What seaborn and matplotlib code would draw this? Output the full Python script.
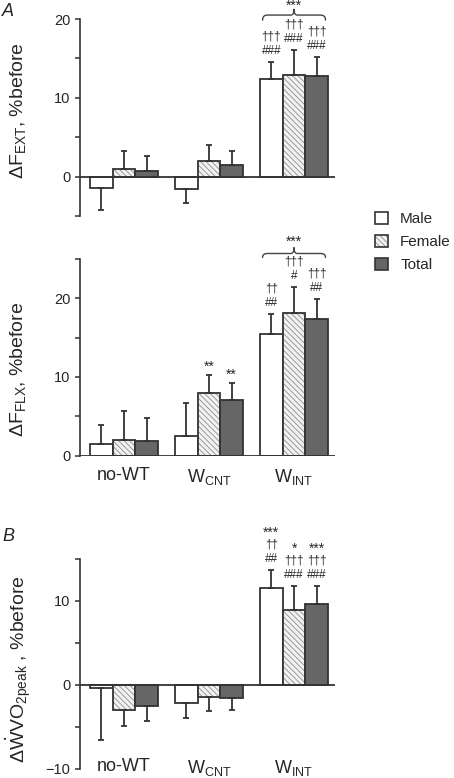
import numpy as np
import pandas as pd
import seaborn as sns
import matplotlib.pyplot as plt
from matplotlib.patches import Patch
from matplotlib.colors import to_rgba

groups = ["no-WT", "WCNT", "WINT"]
group_labels = ["no-WT", r"W$_\mathregular{CNT}$", r"W$_\mathregular{INT}$"]
sexes = ["Male", "Female", "Total"]

# panel A, extensor force change (% of before)
ext_male = [-1.5, -1.6, 12.4]
ext_female = [1.0, 2.0, 12.9]
ext_total = [0.7, 1.5, 12.8]
ext_male_err = [2.8, 1.8, 2.1]
ext_female_err = [2.3, 2.0, 3.2]
ext_total_err = [1.9, 1.7, 2.4]

# panel A, flexor force change
flx_male = [1.5, 2.5, 15.4]
flx_female = [2.0, 7.9, 18.1]
flx_total = [1.9, 7.1, 17.4]
flx_male_err = [2.4, 4.2, 2.6]
flx_female_err = [3.6, 2.4, 3.4]
flx_total_err = [2.9, 2.1, 2.5]

# panel B, peak VO2 change
vo2_male = [-0.4, -2.2, 11.6]
vo2_female = [-3.0, -1.4, 8.9]
vo2_total = [-2.45, -1.55, 9.7]
vo2_male_err = [6.2, 1.7, 2.1]
vo2_female_err = [1.9, 1.7, 2.9]
vo2_total_err = [1.85, 1.4, 2.1]

# significance marks: (group index, sex index, lines from bottom to top)
ext_notes = [(2, 0, ["###", "†††"]), (2, 1, ["###", "†††"]), (2, 2, ["###", "†††"])]
flx_notes = [(1, 1, ["**"]), (1, 2, ["**"]),
             (2, 0, ["##", "††"]), (2, 1, ["#", "†††"]), (2, 2, ["##", "†††"])]
vo2_notes = [(2, 0, ["##", "††", "***"]), (2, 1, ["###", "†††", "*"]),
             (2, 2, ["###", "†††", "***"])]

sns.set_style("ticks")
plt.rcParams["font.family"] = ["Liberation Sans", "DejaVu Sans"]
plt.rcParams["hatch.linewidth"] = 0.6

edge = "#333333"
faces = {"Male": "#ffffff", "Female": "#f2f2f2", "Total": "#666666"}
hatches = {"Male": "", "Female": "\\" * 6, "Total": ""}
hatch_col = to_rgba("#8c8c8c")


def make_df(male, female, total):
    rows = []
    for sex, vals in zip(sexes, [male, female, total]):
        for g, v in zip(groups, vals):
            rows.append({"group": g, "sex": sex, "value": v})
    return pd.DataFrame(rows)


def draw_brace(ax, x0, x1, y, drop, rise):
    t = np.linspace(0, 1, 12)[:, None]
    def bez(p0, p1, p2):
        p0, p1, p2 = map(np.array, (p0, p1, p2))
        return (1 - t) ** 2 * p0 + 2 * (1 - t) * t * p1 + t ** 2 * p2
    xm = (x0 + x1) / 2
    r, r2 = 0.06, 0.04
    left = bez((x0, y - drop), (x0, y), (x0 + r, y))
    mid_l = bez((xm - r2, y), (xm, y), (xm, y + rise))
    mid_r = bez((xm, y + rise), (xm, y), (xm + r2, y))
    right = bez((x1 - r, y), (x1, y), (x1, y - drop))
    pts = np.vstack([left, mid_l, mid_r, right])
    ax.plot(pts[:, 0], pts[:, 1], color="#444444", lw=1.0, clip_on=False)
    return xm


def draw_panel(ax, vals, errs, ylim, major, minor, notes):
    df = make_df(*vals)
    sns.barplot(data=df, x="group", y="value", hue="sex", order=groups,
                hue_order=sexes, palette=faces, errorbar=None, width=0.8,
                saturation=1, edgecolor=edge, linewidth=1.3, legend=False, ax=ax)
    for cont, sex, v, e in zip(ax.containers, sexes, vals, errs):
        for bar in cont:
            bar.set_hatch(hatches[sex])
            bar._hatch_color = hatch_col
        xs = [b.get_x() + b.get_width() / 2 for b in cont]
        lo = [ee if vv < 0 else 0 for vv, ee in zip(v, e)]
        up = [ee if vv >= 0 else 0 for vv, ee in zip(v, e)]
        ax.errorbar(xs, v, yerr=[lo, up], fmt="none", ecolor=edge,
                    elinewidth=1.3, capsize=2.3, capthick=1.3, zorder=3)
    ax.axhline(0, color=edge, lw=1.3, zorder=4)
    ax.set_xlim(-0.518, 2.482)
    ax.set_ylim(*ylim)
    ax.set_yticks(major)
    ax.set_yticks(minor, minor=True)
    ax.tick_params(axis="y", which="both", length=3.5, width=1.1, color=edge,
                   labelsize=10.5, direction="out")
    for s in ["top", "right", "bottom"]:
        ax.spines[s].set_visible(False)
    ax.spines["left"].set_linewidth(1.2)
    ax.spines["left"].set_color(edge)
    ax.set_xlabel("")
    ax.set_ylabel("")

    bars = ax.containers
    for gi, si, lines in notes:
        bar = bars[si][gi]
        x = bar.get_x() + bar.get_width() / 2
        top = vals[si][gi] + errs[si][gi]
        for k, txt in enumerate(lines):
            off = 11 + 14.5 * k
            size = 8.5
            if "*" in txt:
                off -= 3
                size = 10
            ax.annotate(txt, xy=(x, top), xytext=(0, off * 0.72),
                        textcoords="offset points", ha="center", va="center",
                        fontsize=size, annotation_clip=False)


fig = plt.figure(figsize=(4.54, 7.78), dpi=100)
W, H = 454, 778
ax1 = fig.add_axes([80 / W, 1 - 216 / H, 255 / W, 197 / H])
ax2 = fig.add_axes([80 / W, 1 - 455.5 / H, 255 / W, 196.5 / H])
ax3 = fig.add_axes([80 / W, 1 - 769 / H, 255 / W, 210 / H])

draw_panel(ax1, [ext_male, ext_female, ext_total],
           [ext_male_err, ext_female_err, ext_total_err],
           (-5, 20), [0, 10, 20], [-5, 5, 15], ext_notes)
draw_panel(ax2, [flx_male, flx_female, flx_total],
           [flx_male_err, flx_female_err, flx_total_err],
           (0, 25), [0, 10, 20], [5, 15, 25], flx_notes)
draw_panel(ax3, [vo2_male, vo2_female, vo2_total],
           [vo2_male_err, vo2_female_err, vo2_total_err],
           (-10, 15), [-10, 0, 10], [-5, 5, 15], vo2_notes)

ax1.set_xticks([])
ax2.set_xticks([0, 1, 2])
ax2.set_xticklabels(group_labels, fontsize=13)
ax2.tick_params(axis="x", length=0, pad=8)
ax3.set_xticks([0, 1, 2])
ax3.set_xticklabels(group_labels, fontsize=13)
ax3.tick_params(axis="x", length=0, pad=-8)

# braces over the WINT group
xm = draw_brace(ax1, 1.63, 2.37, 20.5, 0.64, 0.73)
ax1.text(xm, 21.7, "***", ha="center", va="center", fontsize=10, clip_on=False)
xm = draw_brace(ax2, 1.63, 2.37, 25.7, 0.5, 0.75)
ax2.text(xm, 27.2, "***", ha="center", va="center", fontsize=10, clip_on=False)

fig.text(18 / W, 1 - 111 / H, r"Δ$\mathregular{F_{EXT}}$, %before", rotation=90,
         ha="center", va="center", fontsize=14)
fig.text(18 / W, 1 - 369 / H, r"Δ$\mathregular{F_{FLX}}$, %before", rotation=90,
         ha="center", va="center", fontsize=14)
fig.text(19 / W, 1 - 669 / H, r"Δ$\dot{\mathregular{W}}$VO$_\mathregular{2peak}$ , %before",
         rotation=90, ha="center", va="center", fontsize=14)

fig.text(2 / W, 1 - 3 / H, "A", style="italic", fontsize=13, va="top", ha="left")
fig.text(2 / W, 1 - 528 / H, "B", style="italic", fontsize=13, va="top", ha="left")

handles = [Patch(facecolor=faces[s], edgecolor=edge, hatch=hatches[s], lw=1.2)
           for s in sexes]
handles[1]._hatch_color = hatch_col
fig.legend(handles, sexes, loc="upper left", bbox_to_anchor=(375 / W, 1 - 212 / H),
           frameon=False, fontsize=11, handlelength=0.85, handleheight=0.85,
           handletextpad=0.8, labelspacing=0.55, borderpad=0, borderaxespad=0)

fig.savefig("out.png", dpi=100)
